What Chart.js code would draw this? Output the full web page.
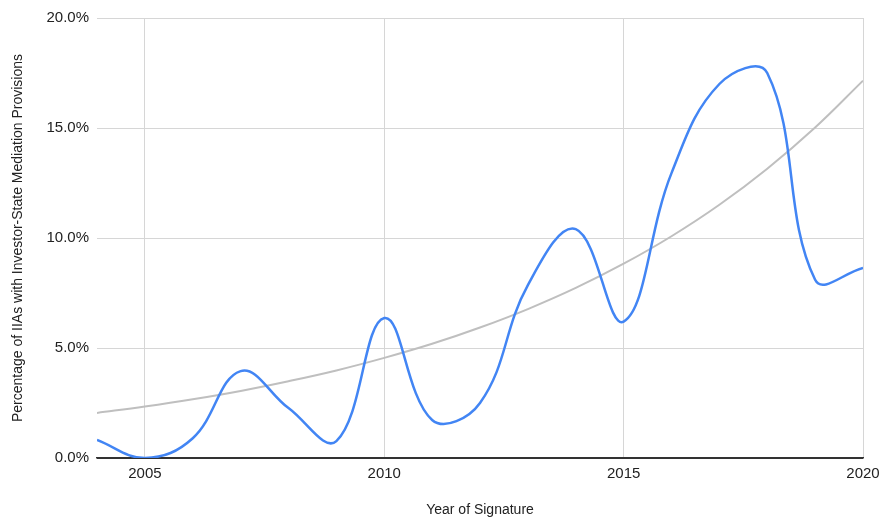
<!DOCTYPE html>
<html>
<head>
<meta charset="utf-8">
<script src="https://cdn.jsdelivr.net/npm/chart.js@4"></script>
<style>
  html, body { margin: 0; padding: 0; background: #ffffff; }
  #wrap { width: 879px; height: 520px; }
</style>
</head>
<body>
<div id="wrap"><canvas id="chart" width="879" height="520"></canvas></div>
<script>
// Share of IIAs with investor-state mediation provisions, by year of signature
const years = [2004, 2005, 2006, 2007, 2008, 2009, 2010, 2011, 2012,
               2013, 2014, 2015, 2016, 2017, 2018, 2019, 2020];
const shareValues = [0.82, 0.0, 0.9, 3.95, 2.27, 0.77, 6.36, 1.73, 2.5,
                     7.86, 10.4, 6.2, 12.95, 17.0, 17.5, 8.1, 8.64];
// exponential trendline
const trendValues = [2.05, 2.34, 2.67, 3.05, 3.49, 3.98, 4.55, 5.19, 5.93,
                     6.77, 7.73, 8.83, 10.08, 11.51, 13.15, 15.02, 17.15];
const xTicks = [2005, 2010, 2015, 2020];
const yTicks = [0, 5, 10, 15, 20];

const FONT = "'Liberation Sans', Arial, Helvetica, sans-serif";

const toPoints = vals => vals.map((v, i) => ({ x: years[i], y: v }));

new Chart(document.getElementById('chart'), {
  type: 'line',
  data: {
    datasets: [
      {
        label: 'Share',
        data: toPoints(shareValues),
        borderColor: '#4285f4',
        borderWidth: 2.5,
        tension: 0.4,
        pointRadius: 0,
        fill: false,
        order: 1
      },
      {
        label: 'Trend',
        data: toPoints(trendValues),
        borderColor: '#bfbfbf',
        borderWidth: 2,
        tension: 0.4,
        pointRadius: 0,
        fill: false,
        order: 2
      }
    ]
  },
  options: {
    responsive: false,
    animation: false,
    layout: { padding: { top: 18, right: 0, bottom: 0, left: 0 } },
    plugins: {
      legend: { display: false },
      tooltip: { enabled: false }
    },
    scales: {
      x: {
        type: 'linear',
        min: 2004,
        max: 2020,
        afterBuildTicks: axis => { axis.ticks = xTicks.map(v => ({ value: v })); },
        afterFit: axis => {
          axis.height = 62;
          // let the "2020" label hang past the plot edge like the original
          axis.paddingRight = 16;
          axis.paddingLeft = 0;
        },
        grid: { color: '#d6d6d6', lineWidth: 1, drawTicks: false },
        border: { display: true, color: '#333333', width: 1.5 },
        ticks: {
          color: '#222222',
          padding: 7,
          maxRotation: 0,
          font: { family: FONT, size: 15 },
          callback: v => String(v)
        },
        title: {
          display: true,
          text: 'Year of Signature',
          color: '#222222',
          font: { family: FONT, size: 14 },
          padding: { top: 4, bottom: 1 }
        }
      },
      y: {
        min: 0,
        max: 20,
        afterBuildTicks: axis => { axis.ticks = yTicks.map(v => ({ value: v })); },
        afterFit: axis => { axis.width = 97; },
        grid: {
          color: ctx => ctx.tick && ctx.tick.value === 0 ? '#333333' : '#d6d6d6',
          lineWidth: 1,
          drawTicks: false
        },
        border: { display: false },
        ticks: {
          color: '#222222',
          padding: 8,
          font: { family: FONT, size: 15 },
          callback: v => v.toFixed(1) + '%'
        },
        title: {
          display: true,
          text: 'Percentage of IIAs with Investor-State Mediation Provisions',
          color: '#222222',
          font: { family: FONT, size: 14 },
          padding: { top: 10, bottom: 4 }
        }
      }
    }
  }
});
</script>
</body>
</html>
